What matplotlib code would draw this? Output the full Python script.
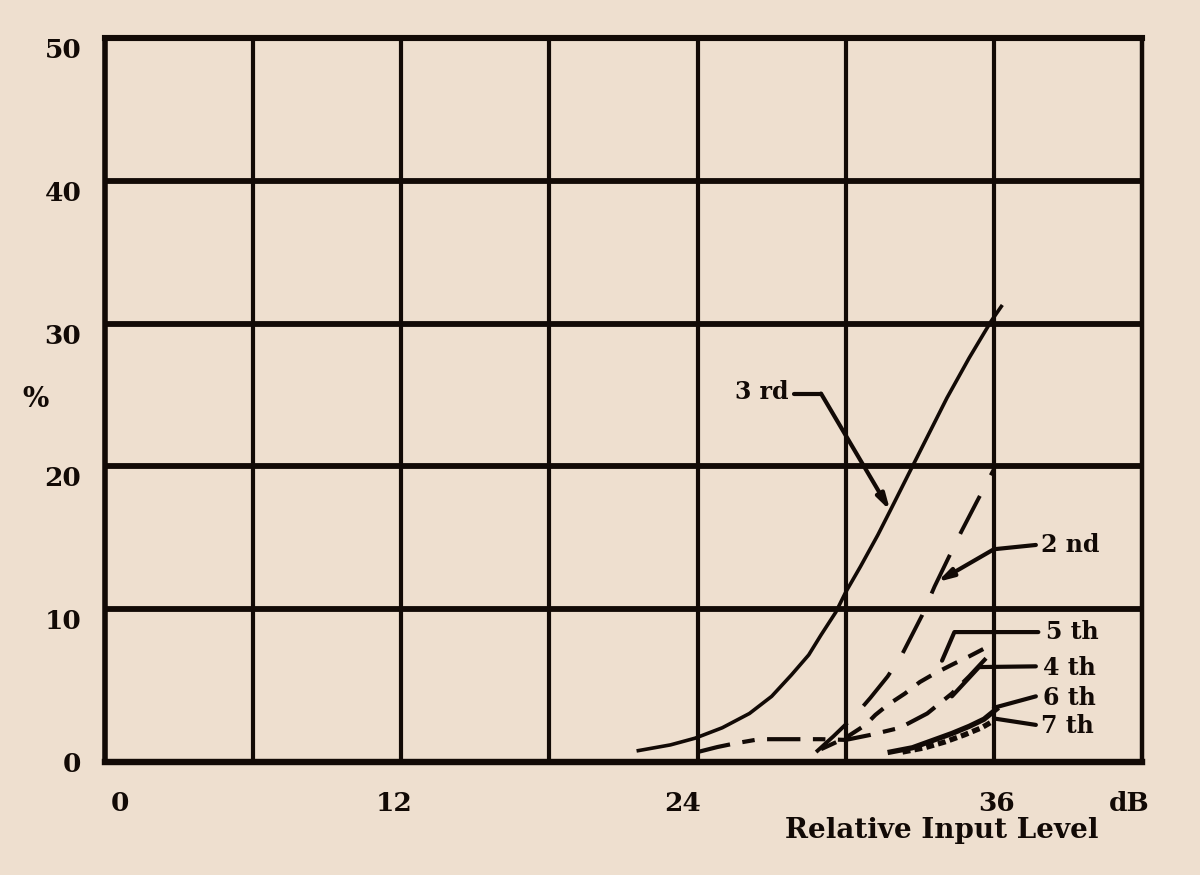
import matplotlib
matplotlib.use('Agg')
import matplotlib.pyplot as plt

BG = '#EEDFCF'
INK = '#120a06'
FONT = ['DejaVu Serif']

# ---- data ----
x_3rd = [21.6, 22.9, 23.9, 25.0, 26.1, 27.0, 27.8, 28.5, 29.0, 29.6, 30.0, 30.6,
         31.3, 31.8, 32.7, 34.1, 35.0, 35.9, 36.3]
y_3rd = [0.1, 0.5, 0.97, 1.7, 2.7, 3.9, 5.4, 6.8, 8.2, 9.8, 11.2, 13.0,
         15.2, 16.9, 20.0, 24.8, 27.6, 30.2, 31.2]

x_2nd = [28.8, 29.5, 30.4, 31.0, 31.7, 32.3, 33.1, 33.6, 34.3, 34.7, 35.3, 36.0]
y_2nd = [0.0, 1.1, 2.6, 3.8, 5.3, 6.9, 9.6, 11.6, 14.1, 15.5, 17.5, 19.8]

x_5th = [29.0, 30.0, 30.8, 31.2, 31.7, 32.4, 33.0, 33.6, 34.4, 35.0, 36.0]
y_5th = [0.2, 1.0, 1.9, 2.6, 3.3, 4.1, 4.9, 5.5, 6.2, 6.7, 7.6]

x_4th = [24.0, 24.8, 25.5, 26.5, 29.0, 30.0, 31.0, 32.2, 33.3, 34.3, 35.0, 35.7, 36.0]
y_4th = [0.0, 0.35, 0.6, 0.9, 0.9, 0.85, 1.2, 1.7, 2.7, 4.1, 5.3, 6.6, 7.1]

x_6th = [31.8, 32.7, 33.5, 34.3, 35.0, 35.6, 36.1]
y_6th = [0.0, 0.3, 0.8, 1.3, 1.8, 2.3, 3.0]

x_7th = [32.3, 33.2, 34.0, 34.8, 35.5, 36.0]
y_7th = [0.0, 0.3, 0.7, 1.2, 1.7, 2.2]

x_grid = [0, 6, 12, 18, 24, 30, 36, 42]
y_grid = [0, 10, 20, 30, 40, 50]
x_tick_pos = [0.6, 11.7, 23.4, 36.1, 41.5]
x_tick_labels = ['0', '12', '24', '36', 'dB']
y_tick_pos = [-0.7, 9.3, 19.3, 29.3, 39.3, 49.3]
y_tick_labels = ['0', '10', '20', '30', '40', '50']

# curve labels: (text, text x, text y, leader xs, leader ys, arrow, ha)
labels = [
    ('3 rd', 27.7, 25.2, [27.9, 29.0, 31.8], [25.1, 25.1, 16.9], True, 'right'),
    ('2 nd', 37.9, 14.5, [37.7, 36.0, 33.7], [14.5, 14.2, 11.9], True, 'left'),
    ('5 th', 38.1, 8.4, [37.8, 34.4, 33.9], [8.4, 8.4, 6.4], False, 'left'),
    ('4 th', 38.0, 5.9, [37.7, 35.4, 34.3], [6.0, 5.95, 3.9], False, 'left'),
    ('6 th', 38.0, 3.8, [37.7, 36.0], [3.9, 3.1], False, 'left'),
    ('7 th', 37.9, 1.8, [37.7, 36.0], [1.9, 2.35], False, 'left'),
]

fig = plt.figure(figsize=(12, 8.75), dpi=100, facecolor=BG)
ax = fig.add_axes([0.0875, 0.1291, 0.8642, 0.8275], facecolor=BG)
ax.set_xlim(0, 42)
ax.set_ylim(0, 50)

# grid
for gx in x_grid[1:-1]:
    ax.axvline(gx, color=INK, lw=3.0, zorder=1, solid_capstyle='butt')
for gy in y_grid[1:-1]:
    ax.axhline(gy, color=INK, lw=4.2, zorder=1, solid_capstyle='butt')
for side, lw in [('left', 4.0), ('right', 3.2), ('top', 4.4), ('bottom', 4.6)]:
    ax.spines[side].set_color(INK)
    ax.spines[side].set_linewidth(lw)

# curves
ax.plot(x_3rd, y_3rd, color=INK, lw=2.6, zorder=3)
ax.plot(x_2nd, y_2nd, color=INK, lw=2.8, dashes=(11, 6), zorder=3)
ax.plot(x_5th, y_5th, color=INK, lw=3.0, dashes=(4, 3), zorder=3)
ax.plot(x_4th, y_4th, color=INK, lw=3.0, dashes=(8, 3, 3, 3), zorder=3)
ax.plot(x_6th, y_6th, color=INK, lw=3.8, zorder=3)
ax.plot(x_7th, y_7th, color=INK, lw=3.8, dashes=(1.5, 0.8), zorder=3)

# labels and leaders
for txt, tx, ty, lx, ly, arrow, ha in labels:
    ax.text(tx, ty, txt, ha=ha, va='center', fontsize=17, fontweight='bold',
            family=FONT, color=INK, zorder=4)
    if arrow:
        ax.plot(lx[:-1], ly[:-1], color=INK, lw=3.0, zorder=4, solid_capstyle='round')
        ax.annotate('', xy=(lx[-1], ly[-1]), xytext=(lx[-2], ly[-2]),
                    arrowprops=dict(arrowstyle='-|>,head_length=0.9,head_width=0.25',
                                    color=INK, lw=3.0, shrinkA=0, shrinkB=0), zorder=4)
    else:
        ax.plot(lx, ly, color=INK, lw=3.0, zorder=4, solid_capstyle='round')

# ticks
ax.set_xticks(x_grid)
ax.set_xticklabels([])
ax.set_yticks(y_grid)
ax.set_yticklabels([])
ax.set_xticks(x_tick_pos, minor=True)
ax.set_xticklabels(x_tick_labels, minor=True)
ax.set_yticks(y_tick_pos, minor=True)
ax.set_yticklabels(y_tick_labels, minor=True)
ax.tick_params(which='both', length=0)
ax.tick_params(axis='x', which='minor', pad=21)
ax.tick_params(axis='y', which='minor', pad=17)
for lab in ax.get_xticklabels(minor=True) + ax.get_yticklabels(minor=True):
    lab.set_fontsize(19)
    lab.set_fontweight('bold')
    lab.set_family(FONT)
    lab.set_color(INK)

ax.text(33.9, -0.094, 'Relative Input Level', transform=ax.get_xaxis_transform(),
        ha='center', va='center', fontsize=20, fontweight='bold', family=FONT, color=INK)
ax.text(-0.067, 24.7, '%', transform=ax.get_yaxis_transform(), ha='center', va='center',
        fontsize=20, fontweight='bold', family=FONT, color=INK)

fig.savefig('out.png', dpi=100, facecolor=BG)
